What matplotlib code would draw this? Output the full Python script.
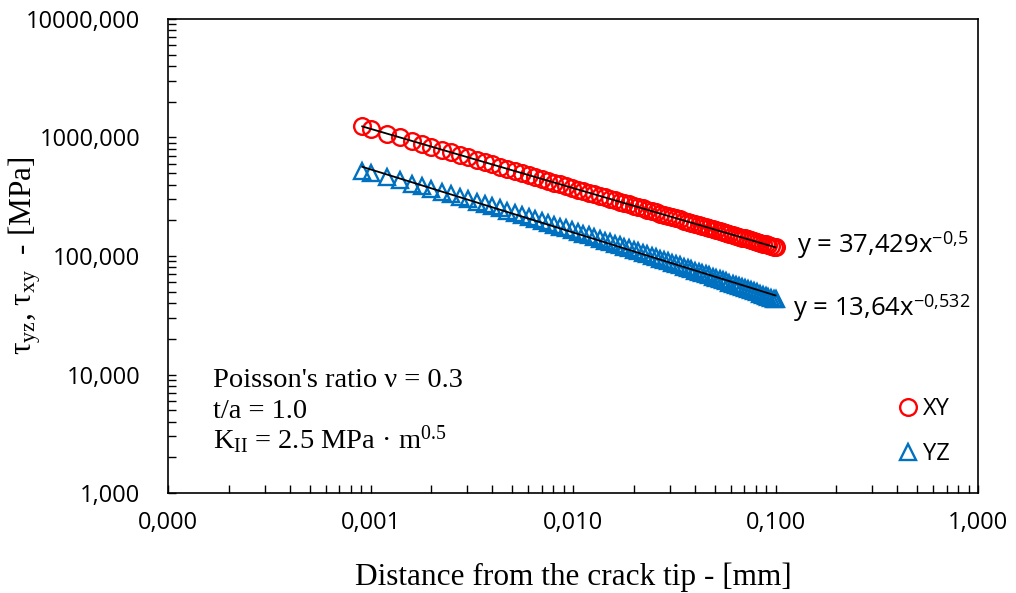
import numpy as np
import matplotlib
matplotlib.use("Agg")
import matplotlib.pyplot as plt

plt.rcParams['mathtext.fontset'] = 'custom'
plt.rcParams['mathtext.rm'] = 'Liberation Serif'
plt.rcParams['mathtext.it'] = 'Liberation Serif:italic'
plt.rcParams['mathtext.sf'] = 'Open Sans'

# distance from the crack tip [mm]
x_dist = [0.00091, 0.00101, 0.0012, 0.0014, 0.0016, 0.0018, 0.002, 0.00225, 0.0025,
          0.00276, 0.00304, 0.00334, 0.00366, 0.0040, 0.00436, 0.00474, 0.00515, 0.00558,
          0.00603, 0.00651, 0.00701, 0.00754, 0.00809, 0.00867, 0.00928, 0.00991, 0.01057,
          0.01126, 0.01199, 0.01274, 0.01353, 0.01434, 0.01519, 0.01608, 0.01699, 0.01795,
          0.01893, 0.01996, 0.02102, 0.02211, 0.02325, 0.02442, 0.02564, 0.02689, 0.02819,
          0.02952, 0.0309, 0.03232, 0.03378, 0.03529, 0.03684, 0.03844, 0.04009, 0.04178,
          0.04352, 0.04531, 0.04715, 0.04904, 0.05097, 0.05296, 0.055, 0.05709, 0.05924,
          0.06144, 0.06369, 0.066, 0.06836, 0.07078, 0.07326, 0.0758, 0.07839, 0.08104,
          0.08375, 0.08652, 0.08935, 0.09225, 0.09521, 0.0982, 0.1]

# shear stress tau_xy [MPa]
tau_xy = [1241, 1178, 1080, 1000, 936, 882, 837, 789, 749,
          713, 679, 648, 619, 592, 567, 544, 522, 501,
          482, 464, 447, 431, 416, 402, 389, 376, 364,
          353, 342, 332, 322, 313, 304, 295, 287, 279,
          272, 265, 258, 252, 245, 239, 234, 228, 223,
          218, 213, 208, 204, 199, 195, 191, 187, 183,
          179.5, 175.8, 172.3, 169.0, 165.8, 162.6, 159.6, 156.6, 153.8,
          151.0, 148.3, 145.7, 143.2, 140.7, 138.3, 136.0, 133.7, 131.5,
          129.4, 127.2, 125.2, 123.2, 121.3, 119.5, 118.4]

# shear stress tau_yz [MPa]
tau_yz = [526, 503, 466, 435, 409, 388, 369, 349, 332,
          316, 302, 288, 276, 264, 253, 242, 232, 223,
          214, 206, 198, 191, 184, 177, 171, 165, 160,
          154, 149, 144, 140, 135, 131, 127, 123, 119.5,
          116, 112.6, 109.5, 106.4, 103.3, 100.5, 97.7, 95.2, 92.6,
          90.2, 87.9, 85.6, 83.4, 81.3, 79.3, 77.3, 75.4, 73.5,
          71.9, 70.1, 68.5, 66.9, 65.4, 63.9, 62.5, 61.1, 59.6,
          58.5, 57.1, 55.9, 54.7, 53.6, 52.4, 51.3, 50.2, 49.3,
          48.2, 47.3, 46.3, 45.4, 44.6, 43.7, 43.2]

# power-law trendlines y = a * x^b
fit_a = [37.429, 13.64]
fit_b = [-0.5, -0.532]
fit_labels = ['y = 37,429x$^{\\mathsf{-0{,}5}}$', 'y = 13,64x$^{\\mathsf{-0{,}532}}$']

x_ticks = [0.0001, 0.001, 0.01, 0.1, 1]
x_ticklabels = ['0,000', '0,001', '0,010', '0,100', '1,000']
y_ticks = [1, 10, 100, 1000, 10000]
y_ticklabels = ['1,000', '10,000', '100,000', '1000,000', '10000,000']

sans = 'Open Sans'
serif = 'Liberation Serif'

fig = plt.figure(figsize=(10.16, 5.93), dpi=100)
ax = fig.add_axes([0.1654, 0.1686, 0.7972, 0.7994])

x = np.array(x_dist)
ax.plot(x, tau_xy, linestyle='none', marker='o', ms=12, mfc='none',
        mec='#FF0000', mew=1.7, label='XY', zorder=2)
ax.plot(x, tau_yz, linestyle='none', marker='^', ms=12, mfc='none',
        mec='#0070C0', mew=1.7, label='YZ', zorder=2)

# trendlines
for a, b in zip(fit_a, fit_b):
    ax.plot(x, a * x ** b, color='black', lw=1.3, zorder=3)

ax.set_xscale('log')
ax.set_yscale('log')
ax.set_xlim(0.0001, 1)
ax.set_ylim(1, 10000)

ax.set_xticks(x_ticks)
ax.set_xticklabels(x_ticklabels, fontfamily=sans, fontsize=17)
ax.set_yticks(y_ticks)
ax.set_yticklabels(y_ticklabels, fontfamily=sans, fontsize=17)
ax.tick_params(which='both', direction='in', length=6, width=1, top=False, right=False)
ax.tick_params(axis='y', which='major', pad=20)
ax.tick_params(axis='x', which='major', pad=13)
for sp in ax.spines.values():
    sp.set_linewidth(1.2)

ax.set_xlabel('Distance from the crack tip - [mm]', fontfamily=serif, fontsize=22.5, labelpad=20)
ax.set_ylabel('τ$_{\\mathrm{yz}}$, τ$_{\\mathrm{xy}}$  - [MPa]', fontfamily=serif, fontsize=22.5)
ax.yaxis.set_label_coords(-0.155, 0.5)

# trendline equations
ax.text(0.7765, 0.5063, fit_labels[0], transform=ax.transAxes, fontfamily=sans, fontsize=18.5)
ax.text(0.7716, 0.3734, fit_labels[1], transform=ax.transAxes, fontfamily=sans, fontsize=18.5)

# case parameters
notes = ["Poisson's ratio ν = 0.3", 't/a = 1.0', 'K$_{\\mathrm{II}}$ = 2.5 MPa · m$^{\\mathrm{0.5}}$']
note_y = [0.224, 0.1582, 0.0928]
for txt, yy in zip(notes, note_y):
    ax.text(0.0556, yy, txt, transform=ax.transAxes, fontfamily=serif, fontsize=20.5)

leg = ax.legend(loc='center', bbox_to_anchor=(0.933, 0.129), frameon=False,
                prop={'family': sans, 'size': 17}, handlelength=0.9,
                handletextpad=0.2, labelspacing=0.9, borderpad=0)

fig.savefig('out.png', dpi=100)
